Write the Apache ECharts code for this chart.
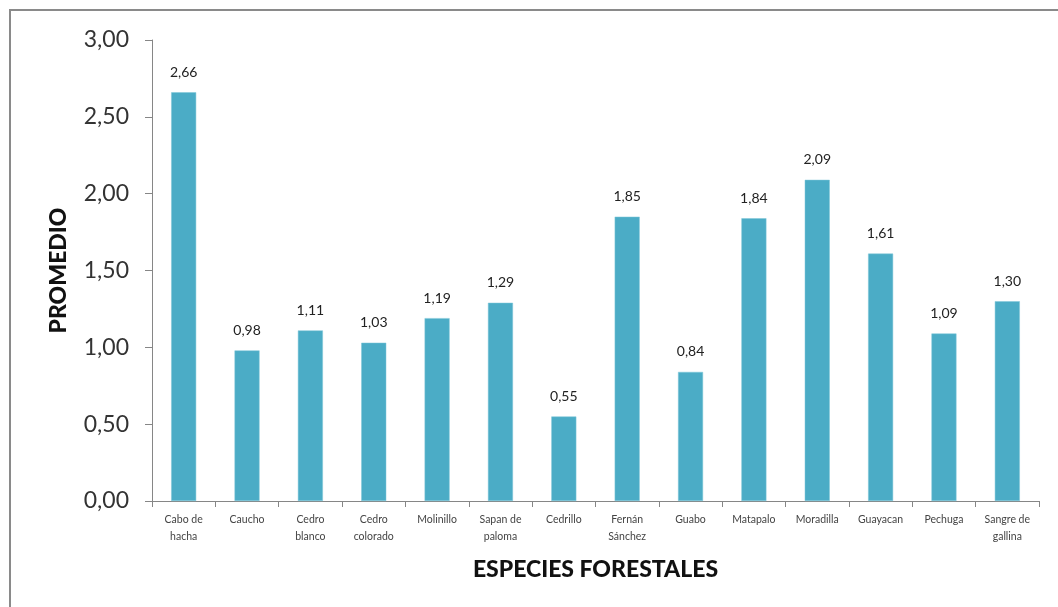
<!DOCTYPE html>
<html>
<head>
<meta charset="utf-8">
<script src="https://cdn.jsdelivr.net/npm/echarts@6/dist/echarts.min.js"></script>
<style>
  html, body { margin: 0; padding: 0; background: #fff; }
  #chart { width: 1058px; height: 607px; }
</style>
</head>
<body>
<div id="chart"></div>
<script>
// Species (two-line labels) and their average values
const categories = [
  'Cabo de\nhacha', 'Caucho', 'Cedro\nblanco', 'Cedro\ncolorado', 'Molinillo',
  'Sapan de\npaloma', 'Cedrillo', 'Fernán\nSánchez', 'Guabo', 'Matapalo',
  'Moradilla', 'Guayacan', 'Pechuga', 'Sangre de\ngallina'
];
const promedio = [2.66, 0.98, 1.11, 1.03, 1.19, 1.29, 0.55, 1.85, 0.84, 1.84, 2.09, 1.61, 1.09, 1.30];
const yMin = 0, yMax = 3, yStep = 0.5;

const comma = v => Number(v).toFixed(2).replace('.', ',');

const chart = echarts.init(document.getElementById('chart'));
chart.setOption({
  animation: false,
  graphic: [{
    type: 'rect',
    shape: { x: 10, y: 10, width: 1100, height: 700 },
    style: { fill: 'none', stroke: '#8a8a8a', lineWidth: 2 },
    silent: true
  }],
  grid: { left: 152, top: 40, right: 19, bottom: 106 },
  xAxis: {
    type: 'category',
    data: categories,
    name: 'ESPECIES FORESTALES',
    nameLocation: 'middle',
    nameGap: 57,
    nameTextStyle: { fontFamily: 'Lato', fontWeight: 900, fontSize: 23, color: '#111' },
    axisLine: { lineStyle: { color: '#868686', width: 1 } },
    axisTick: { show: true, length: 6, lineStyle: { color: '#868686' } },
    axisLabel: {
      interval: 0, fontFamily: 'Lato', fontSize: 10.5, color: '#444',
      lineHeight: 17, margin: 10
    },
    splitLine: { show: false }
  },
  yAxis: {
    type: 'value',
    min: yMin, max: yMax, interval: yStep,
    name: 'PROMEDIO',
    nameLocation: 'middle',
    nameGap: 82,
    nameTextStyle: { fontFamily: 'Lato', fontWeight: 900, fontSize: 23, color: '#111' },
    axisLine: { show: true, lineStyle: { color: '#868686', width: 1 } },
    axisTick: { show: true, inside: false, length: 7, lineStyle: { color: '#868686' } },
    axisLabel: { formatter: v => comma(v), fontFamily: 'Lato', fontSize: 23, color: '#333', margin: 23 },
    splitLine: { show: false }
  },
  series: [{
    type: 'bar',
    data: promedio,
    barWidth: 25,
    itemStyle: { color: '#4BACC6', borderColor: '#7fc6d8', borderWidth: 0.5 },
    label: {
      show: true, position: 'top', distance: 13,
      formatter: p => comma(p.value),
      fontFamily: 'Lato', fontSize: 14, color: '#222'
    }
  }]
});
</script>
</body>
</html>
